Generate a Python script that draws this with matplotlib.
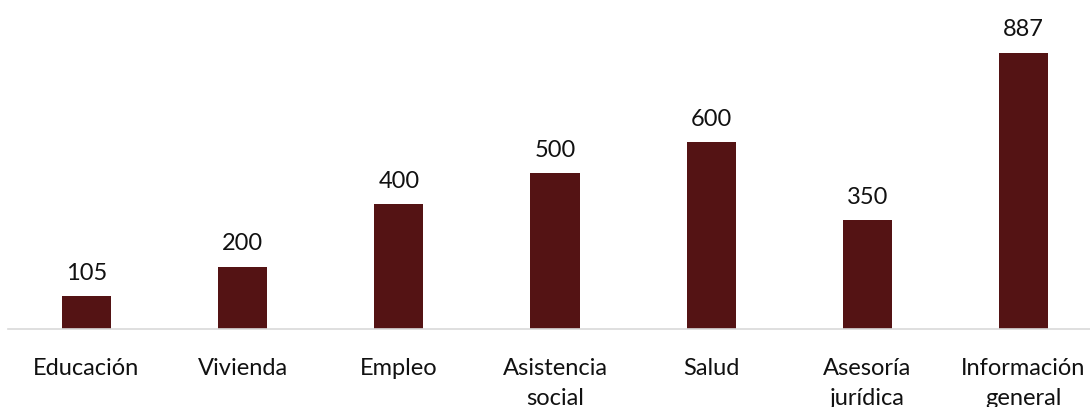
import matplotlib
matplotlib.use('Agg')
import matplotlib.pyplot as plt
import numpy as np

categorias = ['Educación', 'Vivienda', 'Empleo', 'Asistencia\nsocial', 'Salud',
              'Asesoría\njurídica', 'Información\ngeneral']
valores = [105, 200, 400, 500, 600, 350, 887]

plt.rcParams['font.family'] = ['Lato', 'DejaVu Sans']

fig = plt.figure(figsize=(10.9, 4.07), dpi=100)
ax = fig.add_axes([8.4 / 1090, 78 / 407, 1093.2 / 1090, 311.5 / 407])

x = np.arange(len(valores))
bars = ax.bar(x, valores, width=0.314, color='#541314')

for xi, v in zip(x, valores):
    ax.text(xi, v + 40, str(v), ha='center', va='bottom', fontsize=17, color='#111111')

ax.set_xlim(-0.5, 6.5)
ax.set_ylim(0, 1000)
ax.set_xticks(x)
ax.set_xticklabels(categorias, fontsize=17, color='#111111', linespacing=1.5, va='top')
ax.tick_params(axis='x', length=0, pad=21)
ax.set_yticks([])
for s in ['top', 'right', 'left']:
    ax.spines[s].set_visible(False)
ax.spines['bottom'].set_color('#d9d9d9')
ax.spines['bottom'].set_linewidth(1.2)

fig.savefig('out.png', dpi=100)
